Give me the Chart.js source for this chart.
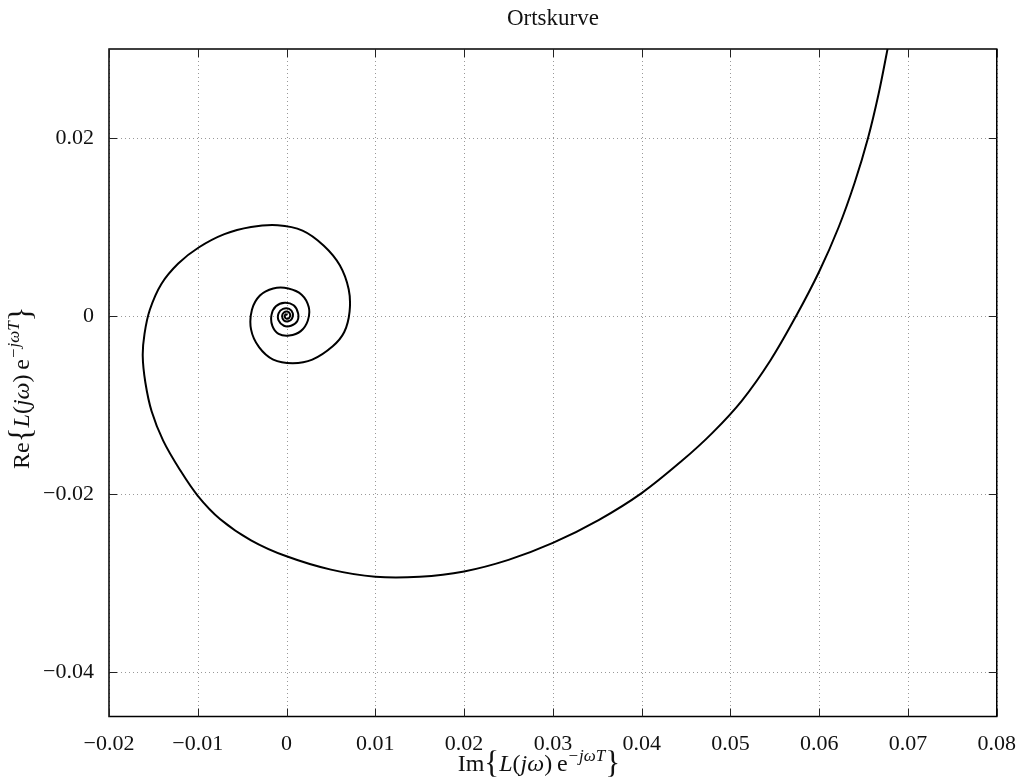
<!DOCTYPE html>
<html>
<head>
<meta charset="utf-8">
<title>Ortskurve</title>
<script src="https://cdn.jsdelivr.net/npm/chart.js@4.4.0/dist/chart.umd.min.js"></script>
<style>
  html, body { margin: 0; padding: 0; background: #fff; }
  #wrap { width: 1023px; height: 778px; position: relative; }
</style>
</head>
<body>
<div id="wrap"><canvas id="ortskurve"></canvas></div>
<script>
// Im{...} (x) and Re{...} (y), from the outer branch to the centre
const imagPart = [
  0.0677, 0.0667, 0.0655, 0.0640, 0.0622, 0.0600, 0.0574, 0.0545, 0.0513, 0.0480,
  0.0445, 0.0400, 0.0352, 0.0300, 0.0250, 0.0200, 0.0150, 0.0100, 0.0050, 0.0000,
  -0.0040, -0.0075, -0.0100, -0.0120, -0.0139, -0.0152, -0.0159, -0.0162, -0.0160, -0.0154,
  -0.0141, -0.0122, -0.0099, -0.0070, -0.0040, -0.0010, 0.0018, 0.0042, 0.0060, 0.0070,
  0.0071, 0.0065, 0.0052, 0.0029, 0.0007, -0.0015, -0.0031, -0.0040, -0.0039, -0.0030,
  -0.0015, 0.0002, 0.0017, 0.0025, 0.0024, 0.0016, 0.0003, -0.0009, -0.0016, -0.0017,
  -0.0012, -0.0002, 0.0008, 0.0013, 0.0012, 0.0005, -0.0003, -0.0009, -0.0009, -0.0004,
  0.0003, 0.0007, 0.0006, 0.0002, -0.0003, -0.0005, -0.0003, 0.0001, 0.0004, 0.0003,
  0.0000, -0.0002, -0.0001, 0.0001
];
const realPart = [
  0.0300, 0.0250, 0.0200, 0.0150, 0.0100, 0.0050, 0.0000, -0.0050, -0.0095, -0.0131,
  -0.0163, -0.0199, -0.0229, -0.0255, -0.0274, -0.0287, -0.0293, -0.0293, -0.0285, -0.0270,
  -0.0252, -0.0228, -0.0202, -0.0173, -0.0140, -0.0107, -0.0075, -0.0045, -0.0020, 0.0007,
  0.0036, 0.0059, 0.0077, 0.0092, 0.0100, 0.0102, 0.0096, 0.0079, 0.0057, 0.0030,
  0.0005, -0.0018, -0.0034, -0.0049, -0.0053, -0.0049, -0.0035, -0.0015, 0.0007, 0.0023,
  0.0031, 0.0031, 0.0024, 0.0010, -0.0005, -0.0017, -0.0022, -0.0020, -0.0011, 0.0001,
  0.0011, 0.0015, 0.0012, 0.0003, -0.0006, -0.0011, -0.0011, -0.0005, 0.0003, 0.0008,
  0.0008, 0.0003, -0.0003, -0.0006, -0.0005, 0.0000, 0.0004, 0.0005, 0.0002, -0.0002,
  -0.0003, -0.0001, 0.0002, 0.0001
];
const xTicks = [-0.02, -0.01, 0, 0.01, 0.02, 0.03, 0.04, 0.05, 0.06, 0.07, 0.08];
const yTicks = [-0.04, -0.02, 0, 0.02];
const xRange = [-0.02, 0.08];
const yRange = [-0.045, 0.03];
const chartTitle = 'Ortskurve';

const FONT = '"Liberation Serif", "Times New Roman", serif';

// text pieces for the axis labels (superscript part set smaller and raised)
const xLabelParts = [
  { t: 'Im' }, { t: '{', big: true }, { t: 'L', it: true }, { t: '(' }, { t: 'jω', it: true },
  { t: ')\u2009e' }, { t: '\u2212jωT', it: true, sup: true }, { t: '}', big: true }
];
const yLabelParts = [
  { t: 'Re' }, { t: '{', big: true }, { t: 'L', it: true }, { t: '(' }, { t: 'jω', it: true },
  { t: ')\u2009e' }, { t: '\u2212jωT', it: true, sup: true }, { t: '}', big: true }
];

function formatTick(v) {
  const s = String(Math.round(Math.abs(v) * 1000) / 1000);
  return v < 0 ? '\u2212' + s : s;
}

function partFont(p) {
  const size = p.sup ? 17 : (p.big ? 31 : 24);
  return (p.it ? 'italic ' : '') + size + 'px ' + FONT;
}

function drawRich(ctx, parts, cx, baseline) {
  let total = 0;
  parts.forEach(p => {
    ctx.font = partFont(p);
    p.w = ctx.measureText(p.t).width;
    total += p.w;
  });
  let xPos = cx - total / 2;
  parts.forEach(p => {
    ctx.font = partFont(p);
    ctx.fillText(p.t, xPos, baseline - (p.sup ? 10 : 0) + (p.big ? 2 : 0));
    xPos += p.w;
  });
}

const matlabAxes = {
  id: 'matlabAxes',
  beforeDatasetsDraw(chart) {
    const { ctx, chartArea: a, scales: { x, y } } = chart;
    ctx.save();
    ctx.strokeStyle = '#999';
    ctx.lineWidth = 1;
    ctx.setLineDash([1, 3]);
    ctx.beginPath();
    xTicks.forEach(v => {
      const px = Math.round(x.getPixelForValue(v)) + 0.5;
      ctx.moveTo(px, a.top); ctx.lineTo(px, a.bottom);
    });
    yTicks.forEach(v => {
      const py = Math.round(y.getPixelForValue(v)) + 0.5;
      ctx.moveTo(a.left, py); ctx.lineTo(a.right, py);
    });
    ctx.stroke();
    ctx.restore();
  },
  afterDatasetsDraw(chart) {
    const { ctx, chartArea: a, scales: { x, y } } = chart;
    ctx.save();
    ctx.strokeStyle = '#000';
    ctx.lineWidth = 1.5;
    ctx.strokeRect(a.left, a.top, a.right - a.left, a.bottom - a.top);

    // inward tick marks on all four sides
    const len = 8;
    ctx.lineWidth = 1;
    ctx.strokeStyle = '#222';
    ctx.beginPath();
    xTicks.forEach(v => {
      const px = Math.round(x.getPixelForValue(v)) + 0.5;
      ctx.moveTo(px, a.bottom); ctx.lineTo(px, a.bottom - len);
      ctx.moveTo(px, a.top); ctx.lineTo(px, a.top + len);
    });
    yTicks.forEach(v => {
      const py = Math.round(y.getPixelForValue(v)) + 0.5;
      ctx.moveTo(a.left, py); ctx.lineTo(a.left + len, py);
      ctx.moveTo(a.right, py); ctx.lineTo(a.right - len, py);
    });
    ctx.stroke();

    // title
    ctx.fillStyle = '#111';
    ctx.textAlign = 'center';
    ctx.textBaseline = 'alphabetic';
    ctx.font = '23px ' + FONT;
    ctx.fillText(chartTitle, (a.left + a.right) / 2, 25);

    // axis labels
    ctx.textAlign = 'left';
    drawRich(ctx, xLabelParts, (a.left + a.right) / 2 - 14, 771);
    ctx.translate(29, (a.top + a.bottom) / 2 + 5);
    ctx.rotate(-Math.PI / 2);
    drawRich(ctx, yLabelParts, 0, 0);
    ctx.restore();
  }
};

const points = imagPart.map((v, i) => ({ x: v, y: realPart[i] }));

new Chart(document.getElementById('ortskurve'), {
  type: 'scatter',
  data: {
    datasets: [{
      data: points,
      showLine: true,
      borderColor: '#000',
      borderWidth: 2,
      pointRadius: 0,
      tension: 0.35,
      fill: false
    }]
  },
  options: {
    responsive: true,
    maintainAspectRatio: false,
    animation: false,
    layout: { padding: { top: 49, right: 23, left: 0, bottom: 0 } },
    plugins: {
      legend: { display: false },
      tooltip: { enabled: false }
    },
    scales: {
      x: {
        type: 'linear',
        min: xRange[0],
        max: xRange[1],
        afterBuildTicks: s => { s.ticks = xTicks.map(v => ({ value: v })); },
        afterFit: s => { s.height = 61.5; },
        grid: { display: false },
        border: { display: false },
        ticks: {
          padding: 7,
          color: '#111',
          maxRotation: 0,
          autoSkip: false,
          font: { family: FONT, size: 22 },
          callback: formatTick
        }
      },
      y: {
        type: 'linear',
        min: yRange[0],
        max: yRange[1],
        afterBuildTicks: s => { s.ticks = yTicks.map(v => ({ value: v })); },
        afterFit: s => { s.width = 109; },
        grid: { display: false },
        border: { display: false },
        ticks: {
          padding: 7,
          color: '#111',
          autoSkip: false,
          font: { family: FONT, size: 22 },
          callback: formatTick
        }
      }
    }
  },
  plugins: [matlabAxes]
});
</script>
</body>
</html>
